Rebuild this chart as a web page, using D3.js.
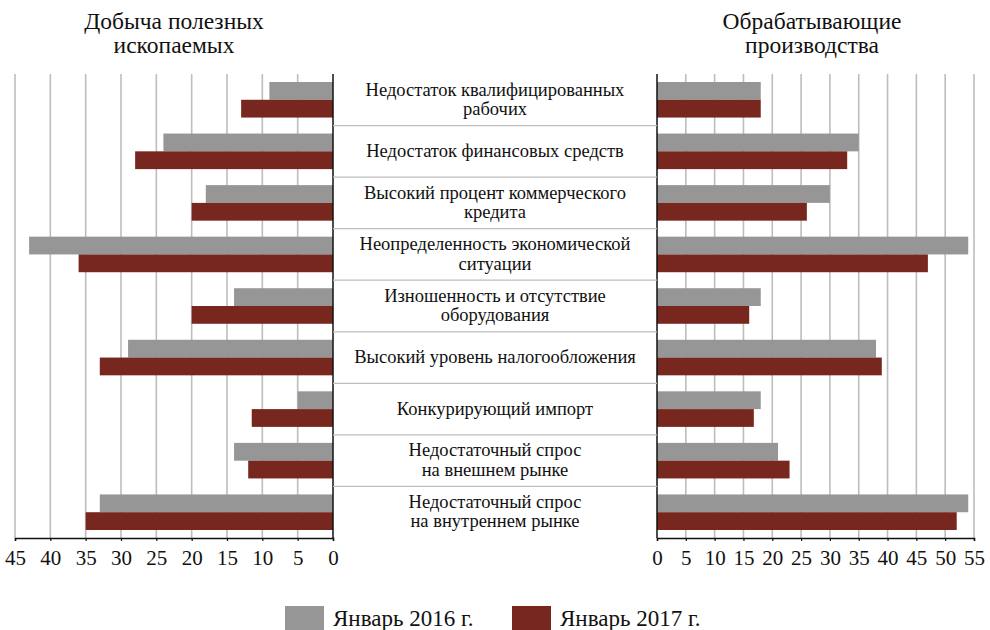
<!DOCTYPE html>
<html>
<head>
<meta charset="utf-8">
<script src="https://cdn.jsdelivr.net/npm/d3@7"></script>
<style>
  body { margin: 0; background: #fff; }
</style>
</head>
<body>
<div id="chart"></div>
<script>
// categories (top to bottom), each label split into lines
const categories = [
  ["Недостаток квалифицированных", "рабочих"],
  ["Недостаток финансовых средств"],
  ["Высокий процент коммерческого", "кредита"],
  ["Неопределенность экономической", "ситуации"],
  ["Изношенность и отсутствие", "оборудования"],
  ["Высокий уровень налогообложения"],
  ["Конкурирующий импорт"],
  ["Недостаточный спрос", "на внешнем рынке"],
  ["Недостаточный спрос", "на внутреннем рынке"]
];
const seriesNames = ["Январь 2016 г.", "Январь 2017 г."];
const seriesColors = ["#969696", "#78271f"];

// Добыча полезных ископаемых
const mining2016 = [9, 24, 18, 43, 14, 29, 5, 14, 33];
const mining2017 = [13, 28, 20, 36, 20, 33, 11.5, 12, 35];
// Обрабатывающие производства
const manuf2016 = [18, 35, 30, 54, 18, 38, 18, 21, 54];
const manuf2017 = [18, 33, 26, 47, 16, 39, 16.8, 23, 52];

const leftTicks = [0, 5, 10, 15, 20, 25, 30, 35, 40, 45];
const rightTicks = [0, 5, 10, 15, 20, 25, 30, 35, 40, 45, 50, 55];

const FONT = '"Liberation Serif", "DejaVu Serif", serif';
const width = 990, height = 630;
const plotTop = 74, plotBottom = 538;

const svg = d3.select("#chart").append("svg")
  .attr("width", width).attr("height", height)
  .attr("font-family", FONT);

const catIdx = categories.map((d, i) => i);
const y = d3.scaleBand().domain(catIdx).range([plotTop, plotBottom]).padding(0);
const ySub = d3.scaleBand().domain([0, 1]).range([0, y.step()]).paddingOuter(0.45).paddingInner(0);

const xLeft = d3.scaleLinear().domain([0, 45]).range([333, 15]);
const xRight = d3.scaleLinear().domain([0, 55]).range([657, 974]);

function panel(x, ticks, s16, s17, title, titleX) {
  const g = svg.append("g");
  // gridlines
  g.selectAll(".grid").data(ticks.filter(t => t !== 0)).join("line")
    .attr("x1", d => x(d)).attr("x2", d => x(d))
    .attr("y1", plotTop).attr("y2", plotBottom)
    .attr("stroke", "#bdbdbd").attr("stroke-width", 1.6);

  // bars
  [s16, s17].forEach((vals, si) => {
    g.selectAll(".bar" + si).data(vals).join("rect")
      .attr("x", d => Math.min(x(0), x(d)))
      .attr("width", d => Math.abs(x(d) - x(0)))
      .attr("y", (d, i) => y(i) + ySub(si))
      .attr("height", ySub.bandwidth())
      .attr("fill", seriesColors[si]);
  });

  // bottom axis
  const axis = g.append("g").attr("transform", `translate(0,${plotBottom})`)
    .call(d3.axisBottom(x).tickValues(ticks).tickSize(3).tickFormat(d3.format("d")));
  axis.attr("font-family", FONT).attr("font-size", 21);
  axis.select(".domain").attr("stroke", "#111").attr("stroke-width", 1.5);
  axis.selectAll(".tick line").attr("stroke", "#111").attr("stroke-width", 1.2);
  axis.selectAll(".tick text")
    .attr("y", 8).attr("dy", "0.9em")
    .style("font-family", FONT)
    .attr("fill", "#111");

  // zero line
  g.append("line")
    .attr("x1", x(0)).attr("x2", x(0)).attr("y1", plotTop).attr("y2", plotBottom)
    .attr("stroke", "#111").attr("stroke-width", 1.5);

  // title
  const t = svg.append("text").attr("text-anchor", "middle")
    .style("font-family", FONT).style("font-size", "23.5px").attr("fill", "#111");
  title.forEach((line, i) => {
    t.append("tspan").attr("x", titleX).attr("y", 29 + i * 24).text(line);
  });
}

panel(xLeft, leftTicks, mining2016, mining2017, ["Добыча полезных", "ископаемых"], 174);
panel(xRight, rightTicks, manuf2016, manuf2017, ["Обрабатывающие", "производства"], 812);

// separators between categories
svg.selectAll(".sep").data(catIdx.slice(1)).join("line")
  .attr("x1", 333).attr("x2", 657)
  .attr("y1", d => y(d)).attr("y2", d => y(d))
  .attr("stroke", "#bdbdbd").attr("stroke-width", 1.3);

// category labels
const midX = (333 + 657) / 2;
categories.forEach((lines, i) => {
  const cy = y(i) + y.bandwidth() / 2;
  const lh = 19.5;
  const t = svg.append("text").attr("text-anchor", "middle")
    .style("font-family", FONT).style("font-size", "18.5px").attr("fill", "#111");
  lines.forEach((line, j) => {
    t.append("tspan").attr("x", midX)
      .attr("y", cy - 1 + (j - (lines.length - 1) / 2) * lh)
      .attr("dy", "0.35em").text(line);
  });
});

// legend
const legendX = [285, 512];
seriesNames.forEach((name, i) => {
  svg.append("rect").attr("x", legendX[i]).attr("y", 606)
    .attr("width", 39).attr("height", 24).attr("fill", seriesColors[i]);
  svg.append("text").attr("x", legendX[i] + 48).attr("y", 626)
    .style("font-family", FONT).style("font-size", "23px").attr("fill", "#111").text(name);
});
</script>
</body>
</html>
